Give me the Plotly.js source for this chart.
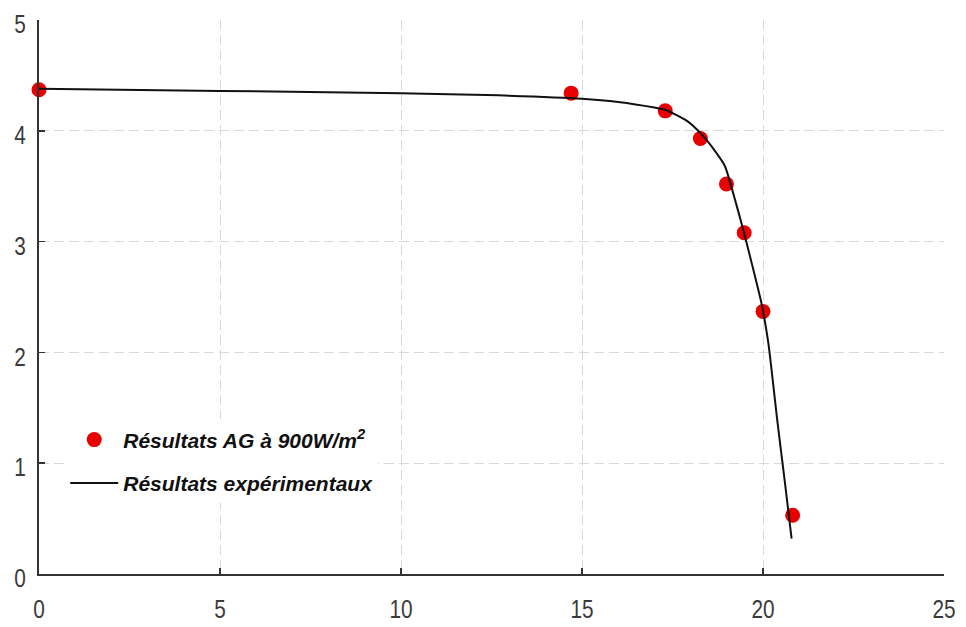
<!DOCTYPE html>
<html>
<head>
<meta charset="utf-8">
<script src="https://cdn.plot.ly/plotly-3.0.1.min.js"></script>
<style>
  html, body { margin: 0; padding: 0; background: #fff; }
  #chart { width: 966px; height: 627px; }
</style>
</head>
<body>
<div id="chart"></div>
<script>
// Genetic-algorithm estimates (I-V points at 900 W/m²)
const gaVoltage = [0, 14.70, 17.30, 18.27, 18.99, 19.48, 20.00, 20.82];
const gaCurrent = [4.37, 4.34, 4.18, 3.93, 3.52, 3.08, 2.37, 0.53];

// Measured I-V curve
const expVoltage = [0, 5, 10, 12.7, 15, 16, 17, 17.3, 17.9, 18.3, 18.6, 18.95, 19.2, 19.46, 19.7, 19.96, 20.15, 20.4, 20.6, 20.79];
const expCurrent = [4.38, 4.36, 4.34, 4.32, 4.29, 4.26, 4.21, 4.19, 4.09, 3.97, 3.85, 3.68, 3.41, 3.10, 2.79, 2.44, 2.08, 1.37, 0.84, 0.32];

const xTicks = [0, 5, 10, 15, 20, 25];
const yTicks = [0, 1, 2, 3, 4, 5];

const sans = 'Liberation Sans, Arial, Helvetica, sans-serif';
const TICK_SQUEEZE = 0.8;   // horizontal condensing of tick digits

const traces = [
  {
    x: gaVoltage, y: gaCurrent,
    type: 'scatter', mode: 'markers',
    name: 'Résultats AG à 900W/m<sup>2</sup>',
    legendgroup: 'ga',
    marker: { color: 'rgb(232,0,0)', size: 15, line: { width: 0 } },
    cliponaxis: false
  },
  {
    x: expVoltage, y: expCurrent,
    type: 'scatter', mode: 'lines',
    name: 'Résultats expérimentaux',
    legendgroup: 'exp',
    line: { color: '#111', width: 2, shape: 'spline', smoothing: 0.5 }
  }
];

const gridStyle = { showgrid: true, gridcolor: '#d9d9d9', griddash: '10px,5px', gridwidth: 1 };

const layout = {
  width: 966, height: 627,
  margin: { l: 39, r: 22, t: 20, b: 53 },
  paper_bgcolor: '#fff', plot_bgcolor: '#fff',
  showlegend: true,
  legend: {
    x: 0.029, y: 0.279, xanchor: 'left', yanchor: 'top',
    bgcolor: '#fff', borderwidth: 0,
    itemwidth: 48,
    tracegroupgap: 13,
    font: { family: sans, size: 21, color: '#111', weight: 'bold', style: 'italic' }
  },
  xaxis: Object.assign({
    range: [0, 25], tickvals: xTicks, ticktext: xTicks.map(String),
    showline: true, linecolor: '#333', linewidth: 2, mirror: false,
    ticks: 'inside', ticklen: 6, tickcolor: '#333', tickwidth: 1.5,
    ticklabelstandoff: 11,
    tickfont: { family: sans, size: 26, color: '#3a3a3a' },
    zeroline: false, fixedrange: true
  }, gridStyle),
  yaxis: Object.assign({
    range: [0, 5], tickvals: yTicks, ticktext: yTicks.map(String),
    showline: true, linecolor: '#333', linewidth: 2, mirror: false,
    ticks: 'inside', ticklen: 6, tickcolor: '#333', tickwidth: 1.5,
    ticklabelstandoff: 6,
    tickfont: { family: sans, size: 26, color: '#3a3a3a' },
    zeroline: false, fixedrange: true
  }, gridStyle)
};

// Condense the tick digits horizontally while keeping their anchor point fixed
function condenseTicks(gd) {
  gd.querySelectorAll('.xtick text, .ytick text').forEach(t => {
    const x = parseFloat(t.getAttribute('x') || '0');
    t.setAttribute('x', x / TICK_SQUEEZE);
    const isY = t.closest('.ytick') !== null;
    const base = t.getAttribute('transform') || '';
    t.setAttribute('transform', base + (isY ? ' translate(0,4)' : '') + ' scale(' + TICK_SQUEEZE + ',1)');
  });
}

Plotly.newPlot('chart', traces, layout, { displayModeBar: false, staticPlot: true })
  .then(condenseTicks);
</script>
</body>
</html>
